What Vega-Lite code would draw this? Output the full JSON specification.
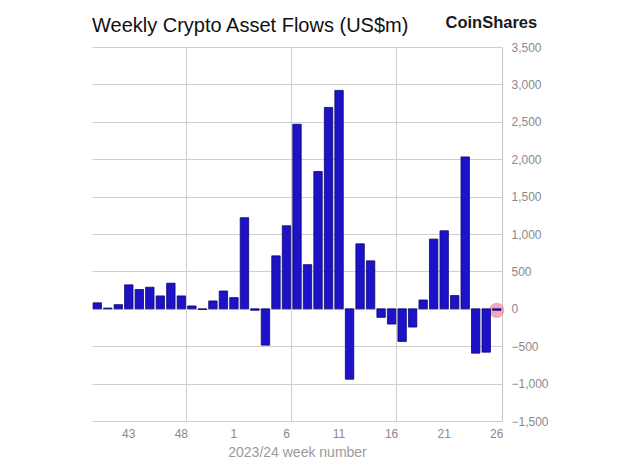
{
  "$schema": "https://vega.github.io/schema/vega-lite/v6.json",
  "width": 410,
  "height": 374,
  "autosize": {"type": "none"},
  "padding": {"left": 92, "top": 47, "right": 138, "bottom": 41},
  "background": "white",
  "title": {"text": "Weekly Crypto Asset Flows (US$m)", "anchor": "start", "frame": "group", "fontSize": 20, "fontWeight": "normal", "font": "Liberation Sans", "color": "#111111", "offset": -22},
  "config": {"view": {"stroke": null}, "font": "Liberation Sans"},
  "data": {"values": [
    {"week": "40", "flow": 80}, {"week": "41", "flow": 10}, {"week": "42", "flow": 55}, {"week": "43", "flow": 320},
    {"week": "44", "flow": 258}, {"week": "45", "flow": 288}, {"week": "46", "flow": 172}, {"week": "47", "flow": 342},
    {"week": "48", "flow": 172}, {"week": "49", "flow": 38}, {"week": "50", "flow": -10}, {"week": "51", "flow": 105},
    {"week": "52", "flow": 238}, {"week": "1", "flow": 150}, {"week": "2", "flow": 1218}, {"week": "3", "flow": -20},
    {"week": "4", "flow": -486}, {"week": "5", "flow": 708}, {"week": "6", "flow": 1110}, {"week": "7", "flow": 2467},
    {"week": "8", "flow": 590}, {"week": "9", "flow": 1835}, {"week": "10", "flow": 2692}, {"week": "11", "flow": 2920},
    {"week": "12", "flow": -941}, {"week": "13", "flow": 869}, {"week": "14", "flow": 641}, {"week": "15", "flow": -114},
    {"week": "16", "flow": -204}, {"week": "17", "flow": -436}, {"week": "18", "flow": -244}, {"week": "19", "flow": 118},
    {"week": "20", "flow": 932}, {"week": "21", "flow": 1043}, {"week": "22", "flow": 177}, {"week": "23", "flow": 2031},
    {"week": "24", "flow": -593}, {"week": "25", "flow": -580}, {"week": "26", "flow": -20}
  ]},
  "encoding": {
    "y": {
      "field": "flow", "type": "quantitative",
      "scale": {"domain": [-1500, 3500], "nice": false, "zero": false},
      "axis": {
        "orient": "right", "values": [-1500, -1000, -500, 0, 500, 1000, 1500, 2000, 2500, 3000, 3500],
        "format": ",.0f", "grid": true, "gridColor": "#cfcfcf", "domain": true, "domainColor": "#c4c4c4",
        "ticks": false, "labelPadding": 9, "labelColor": "#8a8a8a", "labelFontSize": 12, "labelFont": "Liberation Sans",
        "title": "CoinShares", "titleAngle": 0, "titleX": -57, "titleY": -20, "titleAlign": "left", "titleBaseline": "alphabetic",
        "titleFontSize": 16.5, "titleFontWeight": "bold", "titleColor": "#1a1a1a", "titleFont": "Liberation Sans"
      }
    }
  },
  "layer": [
    {
      "mark": {"type": "point", "filled": true, "size": 230, "color": "#f28aaa"},
      "encoding": {
        "x": {
          "field": "week", "type": "nominal", "sort": null,
          "scale": {"paddingInner": 0.2, "paddingOuter": 0.1},
          "axis": {
            "orient": "bottom", "values": ["43", "48", "1", "6", "11", "16", "21", "26"], "labelAngle": 0,
            "labelColor": "#8a8a8a", "labelFontSize": 12, "labelPadding": 7, "ticks": false, "domain": false, "grid": false,
            "title": "2023/24 week number", "titleColor": "#9a9a9a", "titleFontSize": 14, "titleFontWeight": "normal", "titlePadding": 6
          }
        },
        "opacity": {"condition": {"test": "datum.week === '26'", "value": 0.75}, "value": 0}
      }
    },
    {
      "mark": {"type": "bar", "color": "#1d12c8", "stroke": "#0b0870", "strokeWidth": 0.8},
      "encoding": {
        "x": {
          "field": "week", "type": "nominal", "sort": null,
          "axis": {
            "orient": "bottom", "values": ["49", "7", "17"], "bandPosition": -0.125, "grid": true, "gridColor": "#cfcfcf",
            "labels": false, "ticks": false, "domain": false, "title": null
          }
        }
      }
    }
  ],
  "resolve": {"axis": {"x": "independent"}}
}
